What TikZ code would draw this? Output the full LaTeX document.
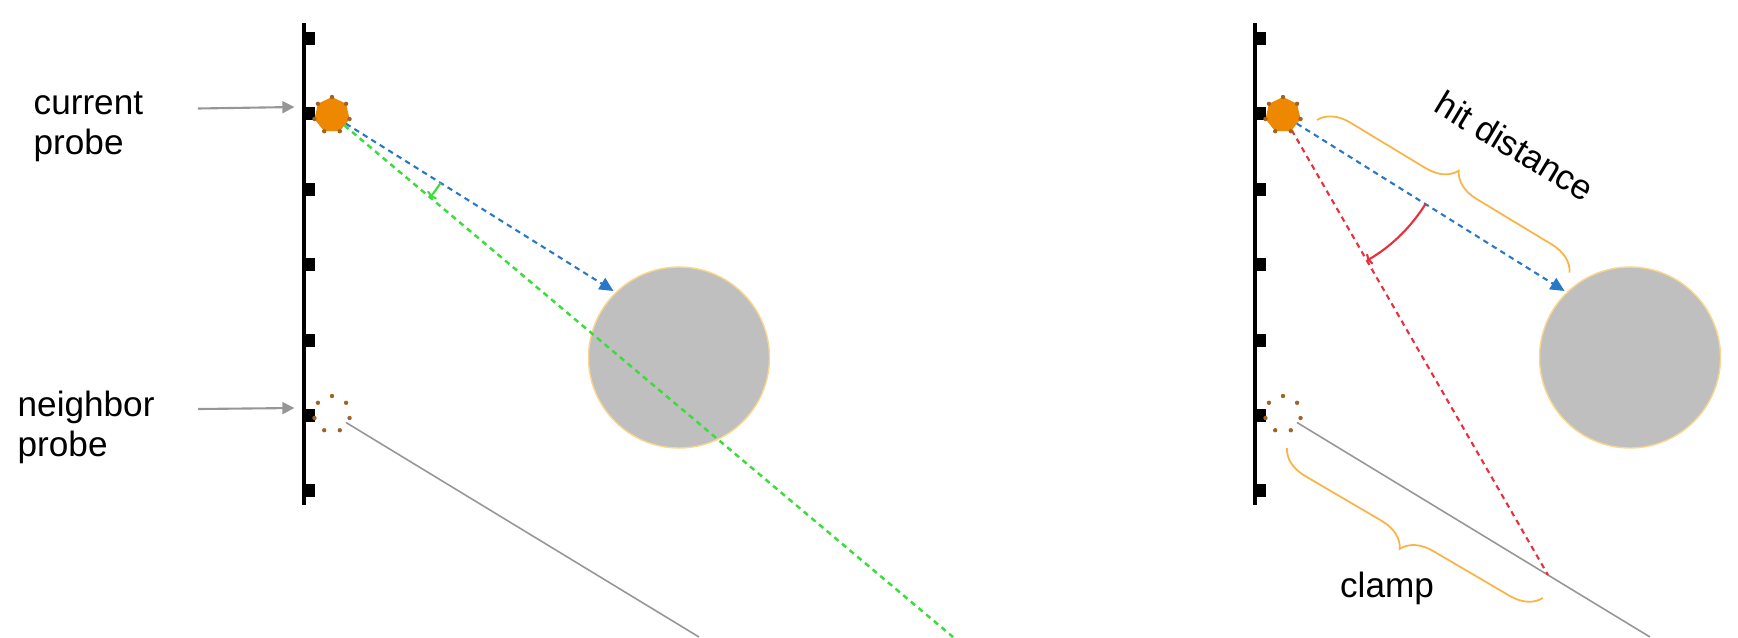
\documentclass[tikz,border=0pt]{standalone}
\usepackage{fontspec}
\setmainfont{Liberation Sans}
\usetikzlibrary{arrows.meta, shapes.geometric, decorations.pathreplacing}

\definecolor{probeorange}{RGB}{238,136,0}
\definecolor{probedot}{RGB}{160,100,40}
\definecolor{raygray}{RGB}{150,150,150}
\definecolor{hitblue}{RGB}{40,120,200}
\definecolor{missgreen}{RGB}{60,220,60}
\definecolor{clampred}{RGB}{235,45,60}
\definecolor{spheregray}{RGB}{191,191,191}
\definecolor{sphereedge}{RGB}{250,215,140}
\definecolor{braceorange}{RGB}{250,180,70}

\begin{document}
\begin{tikzpicture}[
    font=\fontsize{10pt}{11.4pt}\selectfont,
    wall/.style={line width=0.04cm},
    probe/.style={regular polygon, regular polygon sides=7, minimum size=0.36cm, inner sep=0pt, outer sep=0pt},
    pointer/.style={raygray, line width=0.6pt, -{Triangle[length=1.2mm, width=1.2mm]}},
    rayline/.style={line width=0.6pt, dash pattern=on 0.55mm off 0.45mm},
    blocker/.style={circle, fill=spheregray, draw=sphereedge, line width=0.4pt, minimum size=1.81cm, inner sep=0pt},
    lenbrace/.style={braceorange, line width=0.5pt, decorate, decoration={brace, amplitude=0.3cm}},
    probetext/.style={inner sep=0pt, align=left}
]
    \useasboundingbox (0, 0) rectangle (17.38, 6.37);

    % Probe walls with grid ticks
    \foreach \x in {3.04, 12.55} {
        \draw[wall] (\x, 6.14) -- (\x, 1.32);
        \foreach \y in {5.985, 5.231, 4.477, 3.723, 2.969, 2.215, 1.461}
            \fill (\x+0.02, \y-0.065) rectangle (\x+0.11, \y+0.065);
    }

    % Left: current probe and neighbor probe
    \node[probe, fill=probeorange] (cur) at (3.32, 5.22) {};
    \node[probe] (nb) at (3.32, 2.23) {};
    \node[blocker] (ball) at (6.79, 2.795) {};

    \node[probetext, anchor=west] (curlbl) at (0.33, 5.105) {current\\probe};
    \node[probetext, anchor=west] (nblbl) at (0.17, 2.095) {neighbor\\probe};
    \draw[pointer] ([shift={(0.54,0.18)}]curlbl.east) -- ([shift={(-0.21,0.08)}]cur.west);
    \draw[pointer] ([shift={(0.43,0.185)}]nblbl.east) -- ([shift={(-0.21,0.06)}]nb.west);

    \coordinate (hit) at (6.135, 3.46);
    \coordinate (miss) at (9.53, 0);
    \coordinate (nbend) at (6.99, 0);
    \draw[raygray, line width=0.45pt] (nb) -- (nbend);
    \draw[rayline, missgreen, line width=0.7pt] (cur) -- (miss);
    \draw[rayline, hitblue, -{Triangle[length=1.4mm, width=1.3mm]}] (cur) -- (hit);
    \draw[missgreen, line width=0.6pt, -{To[length=0.4mm, width=1.2mm]}]
        ([shift={(-32:1.28)}]cur.center) arc[start angle=-32, end angle=-40, radius=1.28];

    % Right: clamped by neighbor
    \node[probe, fill=probeorange] (cur2) at (12.83, 5.22) {};
    \node[probe] (nb2) at (12.83, 2.23) {};
    \node[blocker] (ball2) at (16.30, 2.795) {};

    \coordinate (hit2) at (15.645, 3.46);
    \coordinate (nbend2) at (16.50, 0);
    \coordinate (clampend) at (15.48, 0.62);
    \draw[raygray, line width=0.45pt] (nb2) -- (nbend2);
    \draw[rayline, clampred] (cur2) -- (clampend);
    \draw[rayline, hitblue, -{Triangle[length=1.4mm, width=1.3mm]}] (cur2) -- (hit2);
    \draw[clampred, line width=0.6pt, -{To[length=0.4mm, width=1.2mm]}]
        ([shift={(-32:1.68)}]cur2.center) arc[start angle=-32, end angle=-60, radius=1.68];

    \foreach \p in {cur, nb, cur2, nb2}
        \foreach \i in {1,...,7}
            \fill[probedot] (\p.corner \i) circle (0.022);

    \draw[lenbrace] (13.17, 5.17) -- (15.70, 3.64);
    \draw[lenbrace, decoration={mirror}] (12.87, 1.89) -- (15.43, 0.39);
    \node[rotate=-31] (hitlbl) at (15.15, 4.91) {hit distance};
    \node (clamplbl) at (13.87, 0.485) {clamp};
\end{tikzpicture}
\end{document}
